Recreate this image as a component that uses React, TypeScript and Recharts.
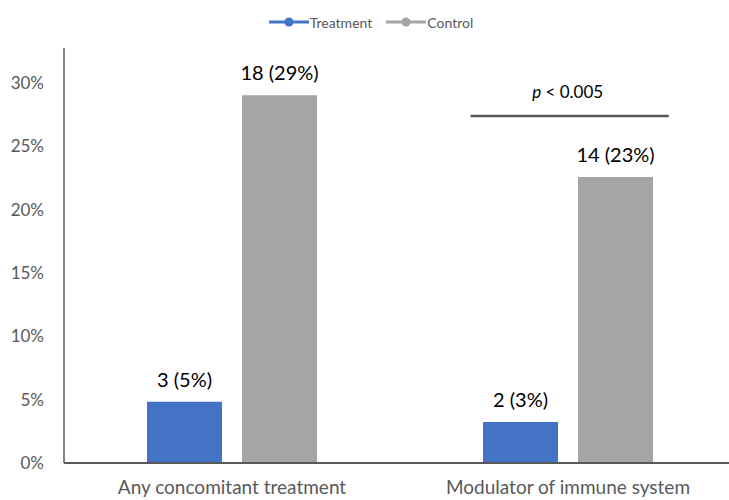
import React from 'react';
import { BarChart, Bar, XAxis, YAxis, Legend, LabelList, ReferenceArea } from 'recharts';

const categories = ['Any concomitant treatment', 'Modulator of immune system'];
const treatmentValues = [4.84, 3.23];
const controlValues = [29.03, 22.58];
const treatmentLabels = ['3 (5%)', '2 (3%)'];
const controlLabels = ['18 (29%)', '14 (23%)'];
const yTicks = [0, 5, 10, 15, 20, 25, 30];
const pText = '< 0.005';

const FONT = 'Lato, "Open Sans", sans-serif';
const BLUE = '#4472C4';
const GRAY = '#A5A5A5';
const AXIS = '#595959';

const data = categories.map((c, i) => ({
  name: c,
  treatment: treatmentValues[i],
  control: controlValues[i],
  tLabel: treatmentLabels[i],
  cLabel: controlLabels[i],
}));

const renderLegend = () => {
  const items = [
    { label: 'Treatment', color: BLUE },
    { label: 'Control', color: GRAY },
  ];
  return (
    <div style={{ height: 38, display: 'flex', justifyContent: 'center', alignItems: 'flex-start' }}>
      <div style={{ height: 24, display: 'flex', alignItems: 'center', gap: 14, marginLeft: 6 }}>
        {items.map((it) => (
          <div key={it.label} style={{ display: 'flex', alignItems: 'center' }}>
            <svg width={40} height={10}>
              <line x1={0} y1={5} x2={40} y2={5} stroke={it.color} strokeWidth={3} />
              <circle cx={20} cy={5} r={4.5} fill={it.color} />
            </svg>
            <span style={{ fontFamily: FONT, fontSize: 14, color: AXIS, marginLeft: 1 }}>{it.label}</span>
          </div>
        ))}
      </div>
    </div>
  );
};

const makeLabel = (key: 'tLabel' | 'cLabel') => (props: any) => {
  const { x, y, width, index } = props;
  const text = data[index][key];
  return (
    <text x={x + width / 2} y={y - 15} textAnchor="middle" fontFamily={FONT} fontSize={20} fill="#000">
      {text}
    </text>
  );
};

const PShape = (props: any) => {
  const { x, y, width, height } = props;
  const x1 = x + width * 0.21;
  const x2 = x + width * 0.8;
  const yb = y + height;
  return (
    <g>
      <line x1={x1} y1={yb} x2={x2} y2={yb} stroke={AXIS} strokeWidth={2.5} />
      <text x={(x1 + x2) / 2 - 2} y={y + 10} textAnchor="middle" fontFamily={FONT} fontSize={17} fill="#000">
        <tspan fontStyle="italic">p</tspan>
        <tspan> {pText}</tspan>
      </text>
    </g>
  );
};

export default function App() {
  return (
    <div style={{ position: 'absolute', left: 0, top: 0, width: 729, height: 500, overflow: 'hidden', background: '#fff' }}>
      <BarChart
        width={740}
        height={500}
        data={data}
        margin={{ top: 10, right: 4, bottom: 0, left: 0 }}
        barSize={75}
        barGap={20}
      >
        <XAxis
          dataKey="name"
          axisLine={{ stroke: AXIS, strokeWidth: 2 }}
          tickLine={false}
          tickSize={16}
          height={37}
          tick={{ fontFamily: FONT, fontSize: 19, fill: AXIS }}
          interval={0}
        />
        <YAxis
          domain={[0, 32.76]}
          ticks={yTicks}
          allowDataOverflow
          tickFormatter={(v: number) => `${v}%`}
          axisLine={{ stroke: AXIS, strokeWidth: 1.5 }}
          tickLine={false}
          tickSize={18}
          width={64}
          tick={{ fontFamily: FONT, fontSize: 17, fill: AXIS }}
        />
        <Legend verticalAlign="top" align="center" content={renderLegend} />
        <ReferenceArea
          x1={categories[1]}
          x2={categories[1]}
          y1={27.4}
          y2={29.6}
          shape={<PShape />}
          ifOverflow="visible"
        />
        <Bar dataKey="treatment" fill={BLUE} isAnimationActive={false}>
          <LabelList dataKey="tLabel" content={makeLabel('tLabel')} />
        </Bar>
        <Bar dataKey="control" fill={GRAY} isAnimationActive={false}>
          <LabelList dataKey="cLabel" content={makeLabel('cLabel')} />
        </Bar>
      </BarChart>
    </div>
  );
}
